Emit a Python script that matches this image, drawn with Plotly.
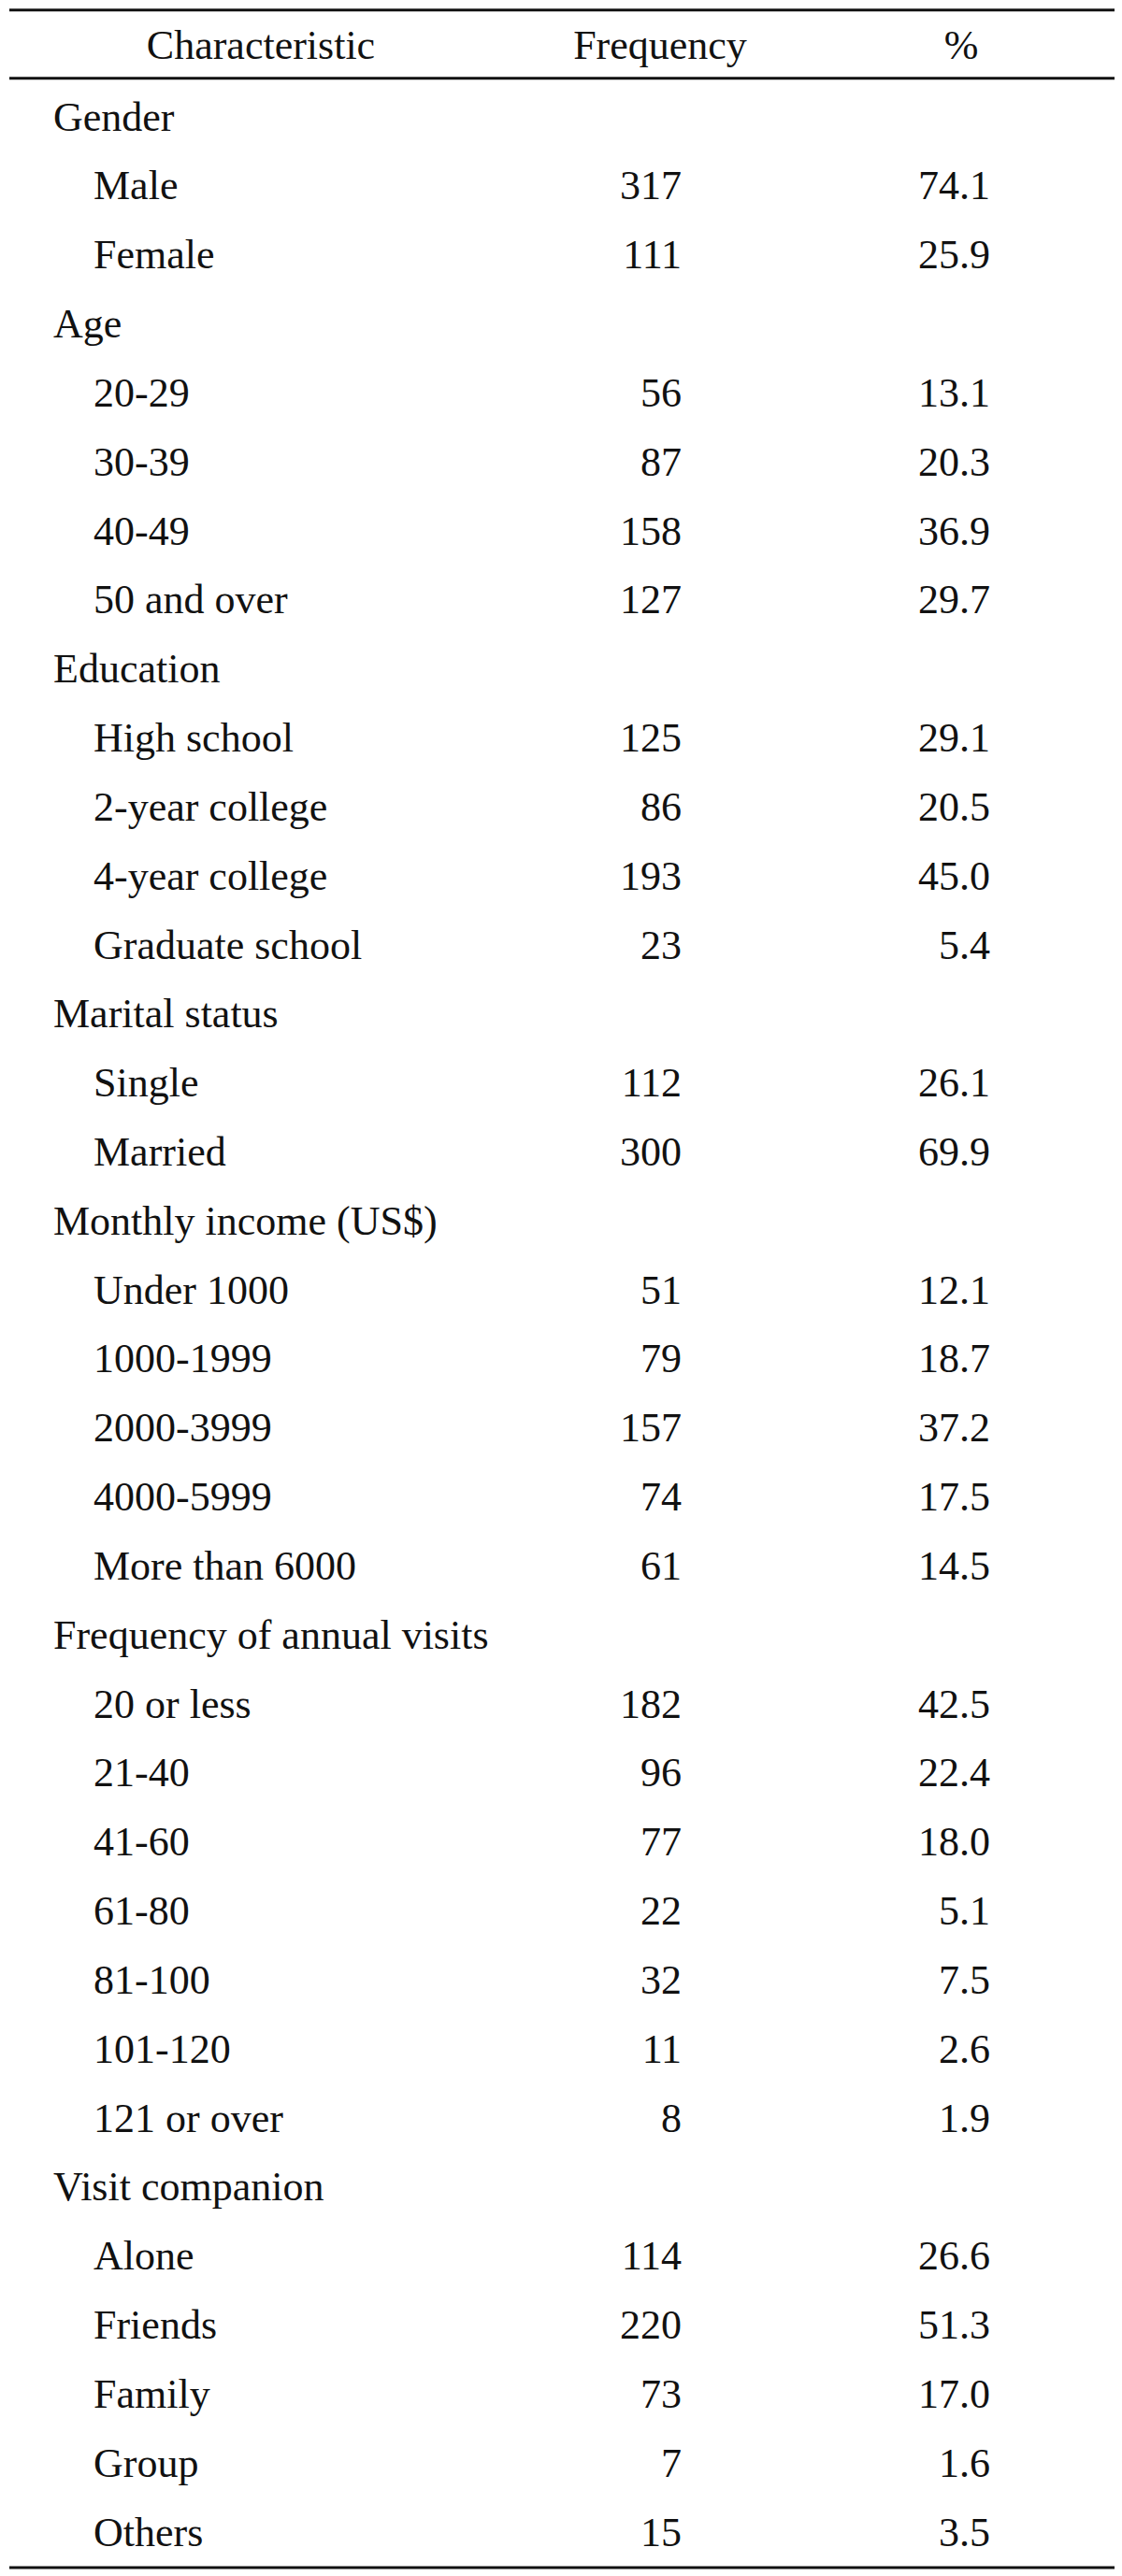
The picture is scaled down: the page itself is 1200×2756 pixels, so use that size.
import plotly.graph_objects as go

# ---- data ----
headers = ["Characteristic", "Frequency", "%"]

section_titles = ["Gender", "Age", "Education", "Marital status",
                  "Monthly income (US$)", "Frequency of annual visits", "Visit companion"]

gender_labels = ["Male", "Female"]
gender_freq = [317, 111]
gender_pct = [74.1, 25.9]

age_labels = ["20-29", "30-39", "40-49", "50 and over"]
age_freq = [56, 87, 158, 127]
age_pct = [13.1, 20.3, 36.9, 29.7]

edu_labels = ["High school", "2-year college", "4-year college", "Graduate school"]
edu_freq = [125, 86, 193, 23]
edu_pct = [29.1, 20.5, 45.0, 5.4]

marital_labels = ["Single", "Married"]
marital_freq = [112, 300]
marital_pct = [26.1, 69.9]

income_labels = ["Under 1000", "1000-1999", "2000-3999", "4000-5999", "More than 6000"]
income_freq = [51, 79, 157, 74, 61]
income_pct = [12.1, 18.7, 37.2, 17.5, 14.5]

visits_labels = ["20 or less", "21-40", "41-60", "61-80", "81-100", "101-120", "121 or over"]
visits_freq = [182, 96, 77, 22, 32, 11, 8]
visits_pct = [42.5, 22.4, 18.0, 5.1, 7.5, 2.6, 1.9]

comp_labels = ["Alone", "Friends", "Family", "Group", "Others"]
comp_freq = [114, 220, 73, 7, 15]
comp_pct = [26.6, 51.3, 17.0, 1.6, 3.5]

sections = [
    (gender_labels, gender_freq, gender_pct),
    (age_labels, age_freq, age_pct),
    (edu_labels, edu_freq, edu_pct),
    (marital_labels, marital_freq, marital_pct),
    (income_labels, income_freq, income_pct),
    (visits_labels, visits_freq, visits_pct),
    (comp_labels, comp_freq, comp_pct),
]

# ---- build rows ----
TEXT_DY = 0.075  # small downward nudge so glyphs sit centred like the reference
title_rows, title_text = [], []
item_rows, item_text, freq_text, pct_text = [], [], [], []
r = 0
for title, (labs, fr, pc) in zip(section_titles, sections):
    title_rows.append(r + TEXT_DY)
    title_text.append(title)
    r += 1
    for lab, f, p in zip(labs, fr, pc):
        item_rows.append(r + TEXT_DY)
        item_text.append(lab)
        freq_text.append(str(f))
        pct_text.append(f"{p:.1f}")
        r += 1

FONT = dict(family="Liberation Serif, Times New Roman, serif", size=44, color="#111111")

X_TITLE = 57
X_ITEM = 100
X_FREQ = 729
X_PCT = 1059
X_HEAD = [279, 706, 1028]
HEAD_ROW = -1.03 + TEXT_DY

fig = go.Figure()
fig.add_trace(go.Scatter(x=X_HEAD, y=[HEAD_ROW] * 3, text=headers, mode="text",
                         textposition="middle center", textfont=FONT, hoverinfo="skip"))
fig.add_trace(go.Scatter(x=[X_TITLE] * len(title_rows), y=title_rows, text=title_text,
                         mode="text", textposition="middle right", textfont=FONT, hoverinfo="skip"))
fig.add_trace(go.Scatter(x=[X_ITEM] * len(item_rows), y=item_rows, text=item_text,
                         mode="text", textposition="middle right", textfont=FONT, hoverinfo="skip"))
fig.add_trace(go.Scatter(x=[X_FREQ] * len(item_rows), y=item_rows, text=freq_text,
                         mode="text", textposition="middle left", textfont=FONT, hoverinfo="skip"))
fig.add_trace(go.Scatter(x=[X_PCT] * len(item_rows), y=item_rows, text=pct_text,
                         mode="text", textposition="middle left", textfont=FONT, hoverinfo="skip"))

# rules
for yr in [-1.52, -0.53, 35.54]:
    fig.add_shape(type="line", xref="x", yref="y", x0=10, x1=1192, y0=yr, y1=yr,
                  line=dict(color="#111111", width=3))

# the page body adds an 8px offset; shift the axis ranges to compensate
PITCH = 73.83
OFF = 8 / PITCH

fig.update_layout(
    width=1200, height=2756,
    margin=dict(l=0, r=0, t=0, b=0),
    paper_bgcolor="white", plot_bgcolor="white",
    showlegend=False, hovermode=False,
    xaxis=dict(range=[8, 1208], visible=False, fixedrange=True),
    yaxis=dict(range=[35.663 + OFF, -1.666 + OFF], visible=False, fixedrange=True),
)

fig.write_html("out.html")
